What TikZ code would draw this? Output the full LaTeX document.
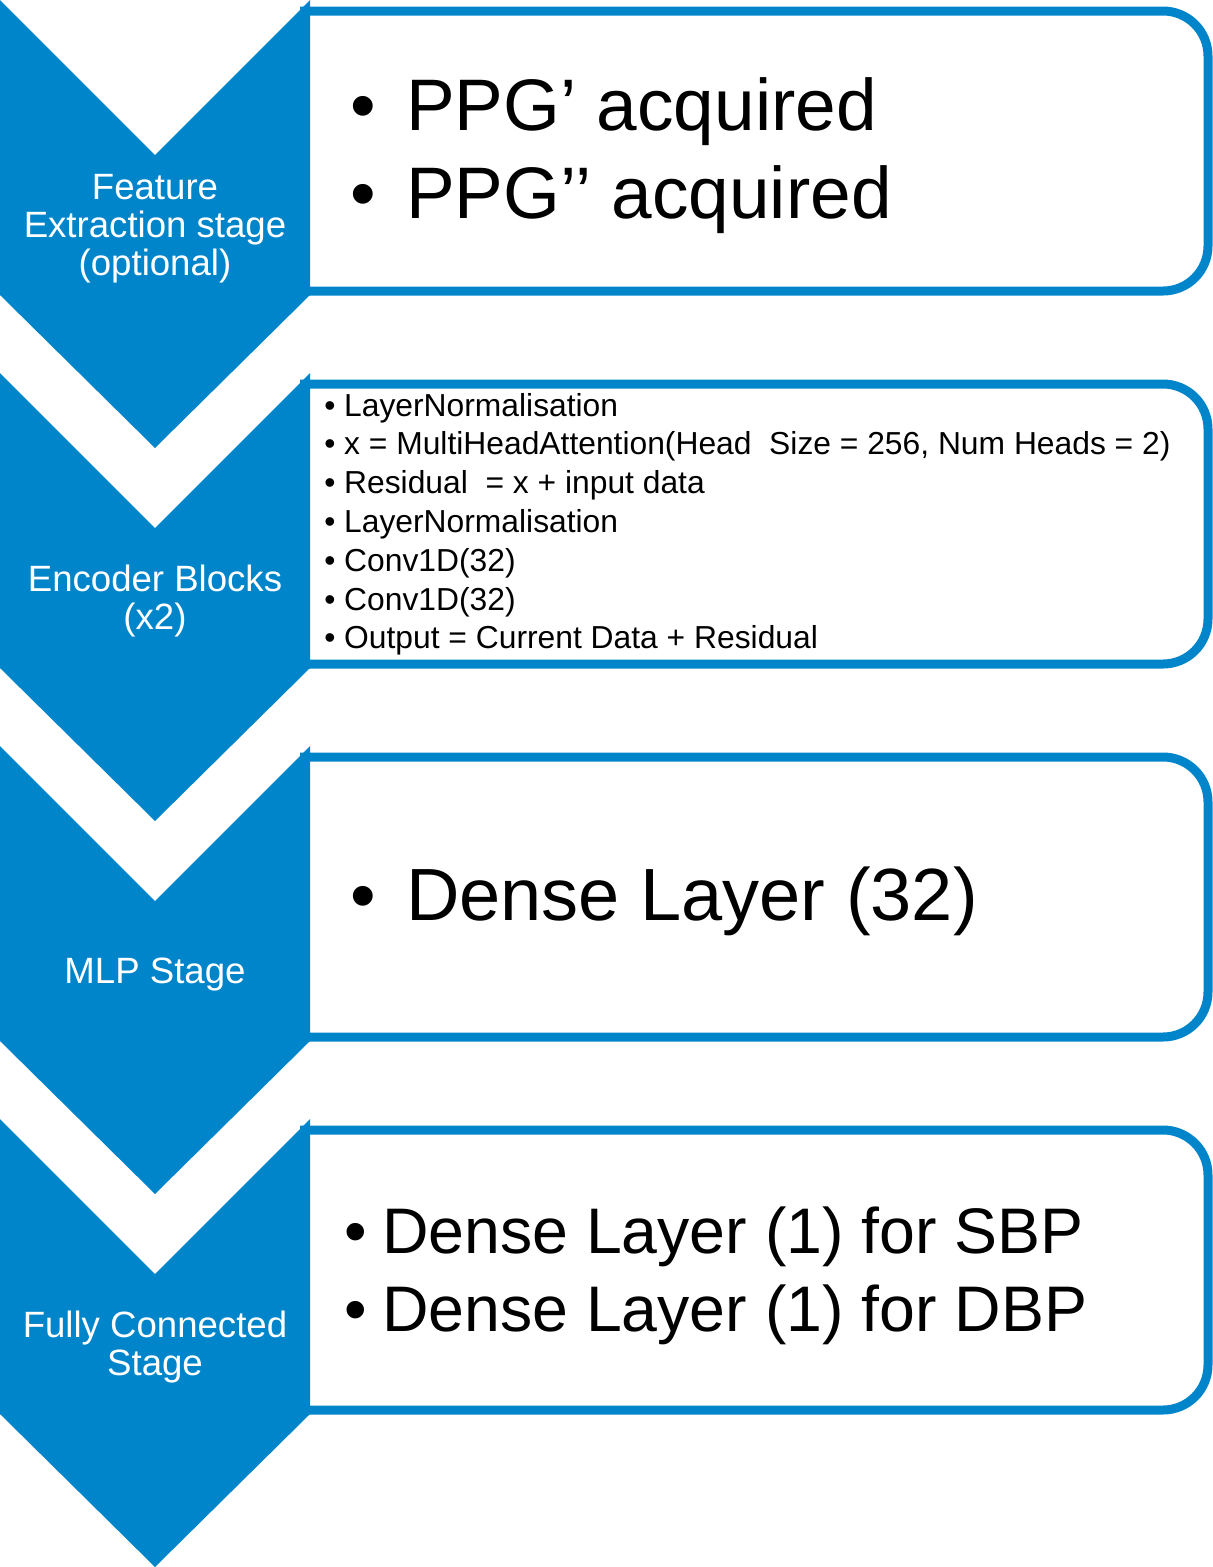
\documentclass[tikz,border=0pt]{standalone}
\usepackage{fontspec}
\setmainfont{Liberation Sans}
\definecolor{cblue}{RGB}{0,133,202}
\begin{document}
\begin{tikzpicture}[x=1pt,y=-1pt,
  chev/.style={fill=cblue,draw=none},
  boxline/.style={draw=cblue,line width=9pt,rounded corners=45pt},
  lbl/.style={text=white,font=\fontsize{36.6}{38}\selectfont,anchor=base,inner sep=0pt},
  bigtxt/.style={font=\fontsize{73}{80}\selectfont,anchor=base west,inner sep=0pt},
  bigbul/.style={font=\fontsize{73}{80}\selectfont,anchor=base,inner sep=0pt},
  dltxt/.style={font=\fontsize{74}{80}\selectfont,anchor=base west,inner sep=0pt},
  midtxt/.style={font=\fontsize{64.4}{70}\selectfont,anchor=base west,inner sep=0pt},
  midbul/.style={font=\fontsize{64.4}{70}\selectfont,anchor=base,inner sep=0pt},
  smtxt/.style={font=\fontsize{31.8}{36}\selectfont,anchor=base west,inner sep=0pt},
  smbul/.style={font=\fontsize{31.8}{36}\selectfont,anchor=base,inner sep=0pt}]
\useasboundingbox (0,0) rectangle (1213,1567);
\foreach \k in {0,1,2,3}{
  \pgfmathsetmacro{\yo}{373*\k}
  \draw[boxline] (300,\yo+11) -- (1208,\yo+11) -- (1208,\yo+291) -- (300,\yo+291);
  \fill[chev] (0,\yo) -- (155,\yo+155) -- (310,\yo) -- (310,\yo+295) -- (155,\yo+448) -- (0,\yo+295) -- cycle;
}
% chevron labels
\node[lbl] (l1a) at (155,199) {Feature};
\node[lbl] (l1b) at (155,237) {Extraction stage};
\node[lbl] (l1c) at (155,275) {(optional)};
\node[lbl] (l2a) at (155,591) {Encoder Blocks};
\node[lbl] (l2b) at (155,629) {(x2)};
\node[lbl] (l3a) at (155,983) {MLP Stage};
\node[lbl] (l4a) at (155,1337) {Fully Connected};
\node[lbl] (l4b) at (155,1375) {Stage};
% box 1
\node[bigbul] (b1a) at (363,130) {•};
\node[bigtxt] (t1a) at (406,130) {PPG’ acquired};
\node[bigbul] (b1b) at (363,218) {•};
\node[bigtxt] (t1b) at (406,218) {PPG’’ acquired};
% box 2
\foreach \i/\t in {0/LayerNormalisation,
  1/{x = MultiHeadAttention(Head\ \ Size = 256, Num Heads = 2)},
  2/{Residual\ \ = x + input data},
  3/LayerNormalisation,
  4/Conv1D(32),
  5/Conv1D(32),
  6/{Output = Current Data + Residual}}{
  \node[smbul] (b2\i) at (330,416+38.8*\i) {•};
  \node[smtxt] (t2\i) at (344,416+38.8*\i) {\t};
}
% box 3
\node[bigbul] (b3a) at (363,920) {•};
\node[dltxt] (t3a) at (406,920) {Dense Layer (32)};
% box 4
\node[midbul] (b4a) at (356,1253) {•};
\node[midtxt] (t4a) at (382,1253) {Dense Layer (1) for SBP};
\node[midbul] (b4b) at (356,1331) {•};
\node[midtxt] (t4b) at (382,1331) {Dense Layer (1) for DBP};
\end{tikzpicture}
\end{document}
